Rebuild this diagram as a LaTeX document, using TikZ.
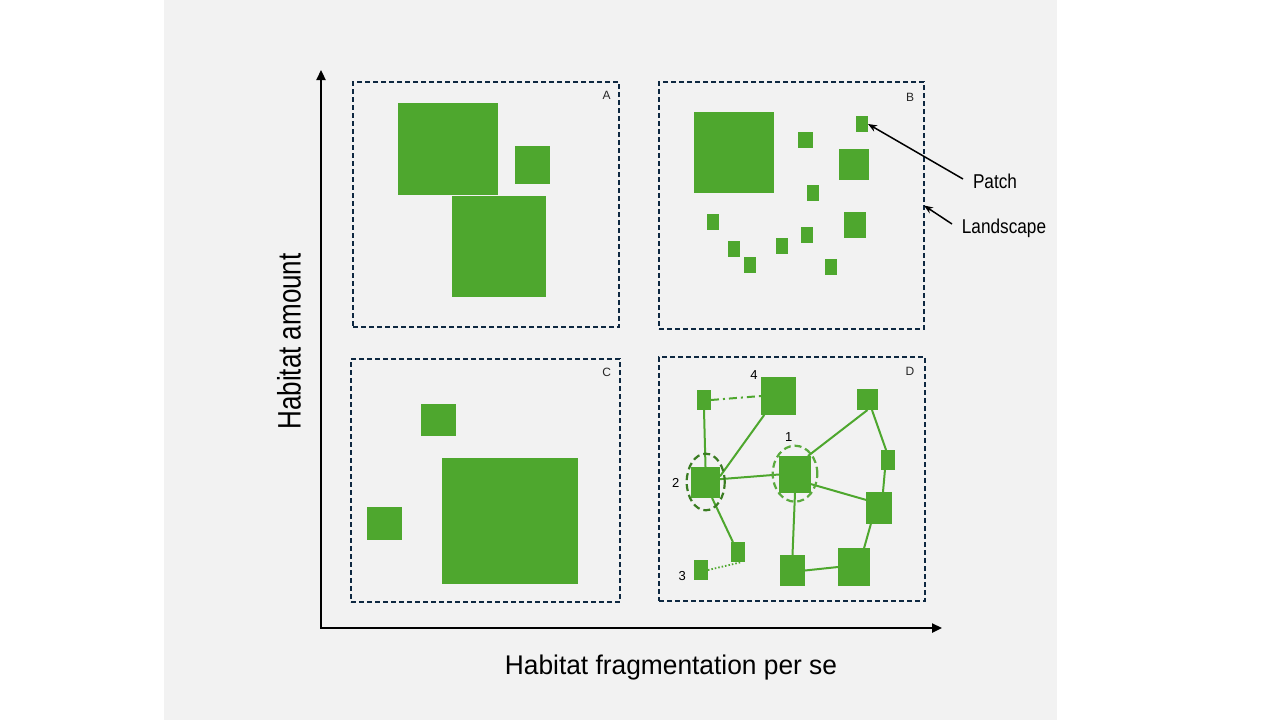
\documentclass[tikz,border=0pt]{standalone}
\usepackage{fontspec}
\setmainfont{Liberation Sans}
\usetikzlibrary{arrows.meta,shapes.geometric}
\definecolor{pgreen}{HTML}{4EA72E}
\definecolor{lgreen}{HTML}{5AAA3E}
\definecolor{dgreen}{HTML}{3A7C22}
\definecolor{navy}{HTML}{0E2841}
\definecolor{bggray}{HTML}{F2F2F2}
\tikzset{
  patch/.style 2 args={fill=pgreen, draw=none, inner sep=0pt, outer sep=0pt, minimum width=#1, minimum height=#2},
  landbox/.style 2 args={draw=navy, line width=2pt, dash pattern=on 5pt off 3pt, inner sep=0pt, outer sep=0pt, minimum width=#1, minimum height=#2},
  corner/.style={font=\fontsize{12}{14}\selectfont, inner sep=0pt, text=black!85},
  num/.style={font=\fontsize{13}{15}\selectfont, inner sep=0pt, text=black},
  link/.style={draw=pgreen, line width=2pt},
  dotlink/.style={draw=pgreen, line width=1.8pt, dash pattern=on 1.5pt off 2pt},
  dashdotlink/.style={draw=pgreen, line width=2pt, dash pattern=on 8pt off 4pt on 2pt off 4pt},
  ring/.style 2 args={ellipse, draw=#1, line width=2.2pt, dash pattern=on 7pt off 4pt, inner sep=0pt, outer sep=0pt, minimum width=#2},
  axislabel/.style={inner sep=0pt, text=black},
  callout/.style={draw=black, line width=1.5pt, -{Stealth[length=9pt,width=7pt]}},
  axis/.style={draw=black, line width=2.3pt, line join=miter, {Triangle[length=10pt,width=9pt]}-{Triangle[length=10pt,width=9pt]}}
}
\begin{document}
\begin{tikzpicture}[x=1pt,y=-1pt]
\useasboundingbox (0,0) rectangle (1280,720);
\fill[bggray] (164,0) rectangle (1057,720);

% ---------- Panel A ----------
\node[patch={100pt}{92pt}] (a1) at (448,149) {};
\node[patch={35pt}{38pt}] (a2) at (532.5,165) {};
\node[patch={94pt}{101pt}] (a3) at (499,246.5) {};
\node[landbox={266pt}{245pt}] (boxA) at (486,204.5) {};
\node[corner] (labA) at (606.7,95.7) {A};

% ---------- Panel B ----------
\node[patch={80pt}{81pt}] (b1) at (734,152.5) {};
\node[patch={12pt}{16pt}] (patchB) at (862,124) {};
\node[patch={15pt}{16pt}] (b3) at (805.5,140) {};
\node[patch={30pt}{31pt}] (b4) at (854,164.5) {};
\node[patch={12pt}{16pt}] (b5) at (813,193) {};
\node[patch={22pt}{26pt}] (b6) at (855,225) {};
\node[patch={12pt}{16pt}] (b7) at (713,222) {};
\node[patch={12pt}{16pt}] (b8) at (734,249) {};
\node[patch={12pt}{16pt}] (b9) at (750,265) {};
\node[patch={12pt}{16pt}] (b10) at (782,246) {};
\node[patch={12pt}{16pt}] (b11) at (807,235) {};
\node[patch={12pt}{16pt}] (b12) at (831,267) {};
\node[landbox={265pt}{247pt}] (boxB) at (791.5,205.5) {};
\node[corner] (labB) at (910,97.7) {B};

\node[axislabel, anchor=base, font=\fontsize{20}{24}\selectfont] (patchlbl) at (995,188) {\scalebox{0.86}[1]{Patch}};
\node[axislabel, anchor=base, font=\fontsize{20}{24}\selectfont] (landlbl) at (1004,233) {\scalebox{0.86}[1]{Landscape}};
\coordinate (patchtail) at (963,179);
\coordinate (landtail) at (952,224);
\draw[callout] (patchtail) -- (patchB.east);
\draw[callout] (landtail) -- (boxB.east);

% ---------- Panel C ----------
\node[patch={35pt}{32pt}] (c1) at (438.5,420) {};
\node[patch={136pt}{126pt}] (c2) at (510,521) {};
\node[patch={35pt}{33pt}] (c3) at (384.5,523.5) {};
\node[landbox={269pt}{243pt}] (boxC) at (485.5,480.5) {};
\node[corner] (labC) at (606.7,372) {C};

% ---------- Panel D ----------
\node[patch={14pt}{20pt}] (da) at (704,400) {};
\node[patch={35pt}{38pt}] (d4) at (778.5,396) {};
\node[patch={21pt}{21pt}] (dtr) at (867.5,399.5) {};
\node[patch={14pt}{20pt}] (dr1) at (888,460) {};
\node[patch={32pt}{37pt}] (d1) at (795,474.5) {};
\node[patch={29pt}{31pt}] (d2) at (705.5,482.5) {};
\node[patch={26pt}{32pt}] (dr2) at (879,508) {};
\node[patch={14pt}{20pt}] (ds) at (738,552) {};
\node[patch={14pt}{20pt}] (d3) at (701,570) {};
\node[patch={25pt}{31pt}] (db1) at (792.5,570.5) {};
\node[patch={32pt}{38pt}] (db2) at (854,567) {};

\draw[link] (da.south) -- (d2.north);
\draw[link] (d4.233) -- (d2.23);
\draw[link] (d2.13) -- (d1.west);
\draw[link] (d1.55) -- (dtr.south);
\draw[link] (dtr.293) -- (dr1.101);
\draw[link] (dr1.253) -- (dr2.76);
\draw[link] (d1.329) -- (dr2.148);
\draw[link] (dr2.243) -- (db2.62);
\draw[link] (d1.south) -- (db1.north);
\draw[link] (db1.east) -- (db2.west);
\draw[link] (d2.293) -- (ds.117);
\draw[dotlink] (d3.east) -- (ds.292);
\draw[dashdotlink] (da.east) -- (d4.west);

\node[ring={lgreen}{44.6pt}, minimum height=56pt] (e1) at (795,473.7) {};
\node[ring={dgreen}{38pt}, minimum height=56.6pt] (e2) at (705.7,482) {};

\node[num] (n4) at (754,375) {4};
\node[num] (n1) at (788.7,437.3) {1};
\node[num] (n2) at (675.7,483.3) {2};
\node[num] (n3) at (682.3,576) {3};

\node[landbox={266pt}{244pt}] (boxD) at (792,479) {};
\node[corner] (labD) at (910,371.7) {D};

% ---------- Axes ----------
\coordinate (origin) at (321,628);
\coordinate (ytip) at (321,70);
\coordinate (xtip) at (942,628);
\draw[axis] (ytip) -- (origin) -- (xtip);

\node[axislabel, rotate=90, anchor=base, font=\fontsize{26}{30}\selectfont] (ylab) at (300.7,341.5) {\scalebox{1}[1.25]{Habitat amount}};
\node[axislabel, anchor=base, font=\fontsize{27}{32}\selectfont] (xlab) at (671,674) {\scalebox{0.975}[1]{Habitat fragmentation per se}};
\end{tikzpicture}
\end{document}
